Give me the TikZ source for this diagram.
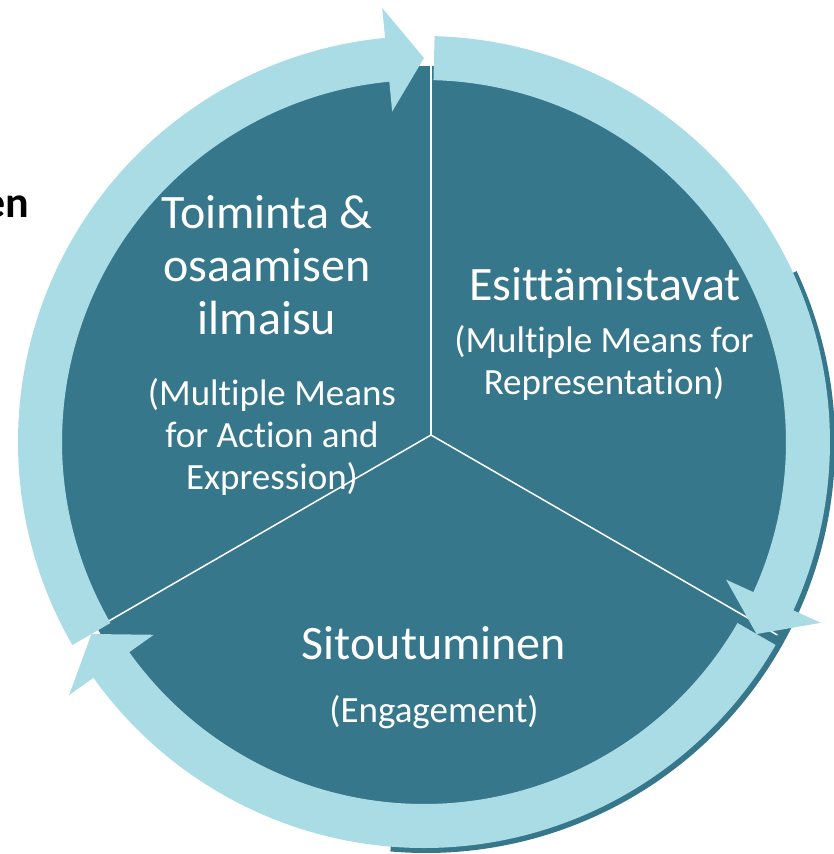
\documentclass[tikz,border=0pt]{standalone}
\usepackage{fontspec}
\setmainfont{Carlito}[RawFeature=-liga, RawFeature=-clig]
\definecolor{udlteal}{RGB}{55,119,139}
\definecolor{udlring}{RGB}{170,220,229}
\tikzset{
  sector/.style={fill=udlteal},
  ringarrow/.style={fill=udlring},
  divider/.style={white, line width=1.5pt},
  heading/.style={text=white, align=center, inner sep=0pt, font=\fontsize{48}{53}\selectfont},
  subheading/.style={text=white, align=center, inner sep=0pt, font=\fontsize{37}{42}\selectfont},
}
\begin{document}
\begin{tikzpicture}[x=1pt, y=1pt]
    \useasboundingbox (-431,-419) rectangle (402,435);
    \coordinate (hub) at (0,0);

    % Shadow peeking out behind the ring
    \fill[sector] (-5,-9) -- ++(25:409pt) arc[start angle=25, end angle=-95, radius=409pt] -- cycle;

    % Sectors
    \fill[sector] (-7,-7) circle (376pt);
    \draw[divider, line width=2.5pt] (hub) -- (90:400pt);
    \draw[divider] (hub) -- (-30:400pt);
    \draw[divider] (hub) -- (210:400pt);

    % Ring of arrows
    \begin{scope}[shift={(-7,-7)}]
        \foreach \s/\e in {210/90, 88.5/-30, -30/-150} {
            \pgfmathsetmacro\b{\e+5.5}
            \fill[ringarrow] (\s:406pt) arc[start angle=\s, end angle=\b, radius=406pt]
                -- (\b:436pt) -- (\e:384pt) -- (\b:332pt) -- (\b:362pt)
                arc[start angle=\b, end angle=\s, radius=362pt] -- cycle;
        }
    \end{scope}

    % Texts
    \node[heading] (action) at (-164,170) {Toiminta \&\\osaamisen\\ilmaisu};
    \node[subheading] (actionen) at (-159,-2) {(Multiple Means\\for Action and\\Expression)};
    \node[heading] (repr) at (174,151) {Esittämistavat};
    \node[subheading] (repren) at (173,72) {(Multiple Means for\\Representation)};
    \node[heading] (engage) at (3,-208) {Sitoutuminen};
    \node[subheading] (engageen) at (3,-277) {(Engagement)};
    \node[anchor=east, inner sep=0pt, font=\fontsize{44}{50}\selectfont\bfseries] (cut) at (-402,228) {en};
\end{tikzpicture}
\end{document}
